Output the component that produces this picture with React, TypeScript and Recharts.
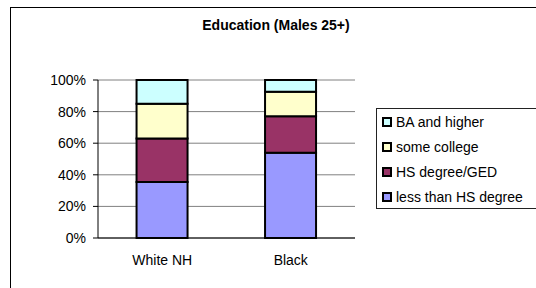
import { Bar, BarChart, CartesianGrid, Legend, XAxis, YAxis } from 'recharts';

const categories = ['White NH', 'Black'];
const lessThanHS = [35.5, 54];
const hsDegree = [27.5, 23];
const someCollege = [22, 15.5];
const baHigher = [15, 7.5];
const yTicks = [0, 20, 40, 60, 80, 100];
const edgeTicks = [0, 1, 2];
// legend reads top-down, opposite of the stack
const legendOrder = ['ba', 'some', 'hs', 'less'];

const FONT = 'Arial, "Liberation Sans", sans-serif';
const TICK = { fontSize: 14, fill: '#000', fontFamily: FONT };

const data = categories.map((name, i) => ({
  name,
  less: lessThanHS[i],
  hs: hsDegree[i],
  some: someCollege[i],
  ba: baHigher[i],
}));

function BoxLegend({ payload }: any) {
  const items = [...(payload || [])].sort(
    (a: any, b: any) => legendOrder.indexOf(a.dataKey) - legendOrder.indexOf(b.dataKey),
  );
  return (
    <div
      style={{
        boxSizing: 'border-box',
        width: 170,
        height: 101,
        border: '1px solid #222',
        background: '#fff',
        paddingTop: 1,
        paddingLeft: 5,
        fontFamily: FONT,
        fontSize: 14,
        color: '#000',
      }}
    >
      {items.map((p: any) => (
        <div key={p.value} style={{ height: 24.8, display: 'flex', alignItems: 'center' }}>
          <span
            style={{
              boxSizing: 'border-box',
              width: 10,
              height: 10,
              border: '2px solid #000',
              background: p.color,
              marginRight: 4,
            }}
          />
          <span style={{ whiteSpace: 'nowrap' }}>{p.value}</span>
        </div>
      ))}
    </div>
  );
}

export default function App() {
  return (
    <div
      style={{
        position: 'absolute',
        left: 0,
        top: 0,
        width: 536,
        height: 288,
        overflow: 'hidden',
        background: '#fff',
      }}
    >
      <div
        style={{
          position: 'absolute',
          left: 10,
          top: 7,
          width: 600,
          height: 400,
          border: '1px solid #000',
        }}
      />
      <div
        style={{
          position: 'absolute',
          left: 176,
          top: 17,
          width: 200,
          textAlign: 'center',
          fontFamily: FONT,
          fontSize: 14,
          lineHeight: '16px',
          fontWeight: 'bold',
        }}
      >
        Education (Males 25+)
      </div>
      <BarChart
        width={536}
        height={288}
        data={data}
        margin={{ top: 80, right: 181, bottom: 0, left: 0 }}
        barCategoryGap="30%"
        style={{ position: 'absolute', left: 0, top: 0 }}
      >
        <CartesianGrid vertical={false} stroke="#808080" />
        <XAxis
          xAxisId="edges"
          type="number"
          domain={[0, 2]}
          ticks={edgeTicks}
          height={0}
          axisLine={false}
          tickLine={{ stroke: '#000' }}
          tickSize={5}
          tick={() => <g />}
        />
        <XAxis
          dataKey="name"
          height={50}
          tick={TICK}
          tickLine={false}
          tickSize={0}
          tickMargin={17}
          axisLine={{ stroke: '#000' }}
        />
        <YAxis
          width={98}
          domain={[0, 100]}
          ticks={yTicks}
          tickFormatter={(v: number) => `${v}%`}
          tick={TICK}
          tickSize={5}
          tickMargin={7}
          axisLine={{ stroke: '#000' }}
          tickLine={{ stroke: '#000' }}
        />
        <YAxis
          yAxisId="right"
          orientation="right"
          width={0}
          domain={[0, 100]}
          tick={false}
          tickLine={false}
          axisLine={{ stroke: '#808080' }}
        />
        <Legend
          layout="vertical"
          align="center"
          verticalAlign="middle"
          content={<BoxLegend />}
          wrapperStyle={{ position: 'absolute', left: 376, top: 108, width: 170, height: 101 }}
        />
        <Bar dataKey="less" name="less than HS degree" stackId="a" fill="#9999FF" stroke="#000" strokeWidth={2} isAnimationActive={false} />
        <Bar dataKey="hs" name="HS degree/GED" stackId="a" fill="#993366" stroke="#000" strokeWidth={2} isAnimationActive={false} />
        <Bar dataKey="some" name="some college" stackId="a" fill="#FFFFCC" stroke="#000" strokeWidth={2} isAnimationActive={false} />
        <Bar dataKey="ba" name="BA and higher" stackId="a" fill="#CCFFFF" stroke="#000" strokeWidth={2} isAnimationActive={false} />
      </BarChart>
    </div>
  );
}
